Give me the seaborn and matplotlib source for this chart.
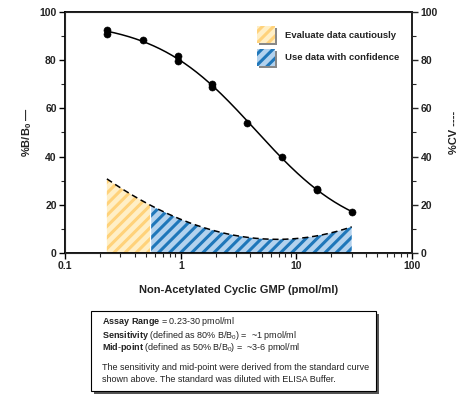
import numpy as np
import pandas as pd
import matplotlib
matplotlib.use("Agg")
import matplotlib.pyplot as plt
import seaborn as sns
from matplotlib.patches import Rectangle

sns.set_style("ticks")
plt.rcParams['font.family'] = ['Liberation Sans', 'DejaVu Sans']
plt.rcParams['hatch.linewidth'] = 2.2
plt.rcParams['mathtext.fontset'] = 'custom'
plt.rcParams['mathtext.rm'] = 'Liberation Sans'
plt.rcParams['mathtext.it'] = 'Liberation Sans:italic'
plt.rcParams['mathtext.bf'] = 'Liberation Sans:bold'

# --- data ---
conc = [0.23, 0.23, 0.47, 0.94, 0.94, 1.88, 1.88, 3.75, 7.5, 15, 15, 30]
bb0 = [92.5, 91.0, 88.5, 81.5, 79.5, 70.0, 69.0, 54.0, 40.0, 26.5, 26.0, 17.0]
cv_conc = [0.23, 0.47, 0.94, 1.88, 3.75, 7.5, 15, 30]
cv_vals = [31.0, 21.0, 14.5, 10.0, 6.5, 5.5, 7.0, 11.0]
confidence_start = 0.55
xticks = [0.1, 1, 10, 100]
xticklabels = ["0.1", "1", "10", "100"]
yticks = [0, 20, 40, 60, 80, 100]

df = pd.DataFrame({"conc": conc, "bb0": bb0})

fig = plt.figure(figsize=(4.58, 3.96), dpi=100)
ax = fig.add_axes([0.142, 0.361, 0.758, 0.609])

# 4-parameter logistic fit of the standard curve (grid over asymptotes)
lx = np.log10(conc)
y = np.array(bb0)
best = None
for a in np.arange(93.0, 110.0, 0.5):
    for d in np.arange(-10.0, 16.5, 0.5):
        z = np.log10((a - y) / (y - d))
        b, c0 = np.polyfit(lx, z, 1)
        pred = d + (a - d) / (1 + 10 ** (b * lx + c0))
        sse = np.sum((pred - y) ** 2)
        if best is None or sse < best[0]:
            best = (sse, a, d, b, c0)
_, A, D, B, C0 = best
xs = np.logspace(np.log10(min(conc)), np.log10(max(conc)), 200)
fit = pd.DataFrame({"x": xs, "y": D + (A - D) / (1 + 10 ** (B * np.log10(xs) + C0))})

# CV curve fit
cc = np.polyfit(np.log10(cv_conc), cv_vals, 3)
cvy = np.polyval(cc, np.log10(xs))

yel = xs <= confidence_start
blu = xs >= confidence_start
ax.fill_between(xs[yel], 0, cvy[yel], facecolor="#FFEFC6", edgecolor="#FFD27A",
                hatch="///", linewidth=0, zorder=1)
ax.fill_between(xs[blu], 0, cvy[blu], facecolor="#B3D2EE", edgecolor="#1F77BA",
                hatch="///", linewidth=0, zorder=1)
sns.lineplot(x=xs, y=cvy, ax=ax, color="black", linestyle=(0, (4, 2.5)),
             linewidth=1.1, zorder=3)

sns.lineplot(data=fit, x="x", y="y", ax=ax, color="black", linewidth=1.1, zorder=3)
sns.scatterplot(data=df, x="conc", y="bb0", ax=ax, color="black", s=26,
                edgecolor="black", zorder=4)

ax.set_xscale("log")
ax.set_xlim(0.1, 100)
ax.set_ylim(0, 100)
ax.set_xticks(xticks)
ax.set_xticklabels(xticklabels)
ax.set_yticks(yticks)
ax.set_yticks([10, 30, 50, 70, 90], minor=True)
for sp in ax.spines.values():
    sp.set_visible(True)
    sp.set_linewidth(1.3)
    sp.set_color("black")
ax.tick_params(axis="both", which="major", length=4, width=1, labelsize=7.5,
               colors="black", pad=2)
ax.tick_params(axis="both", which="minor", length=3, width=0.8)
ax.tick_params(axis="y", which="both", right=False)
for lab in ax.get_xticklabels() + ax.get_yticklabels():
    lab.set_fontweight("bold")
    lab.set_color("#222222")

ax.set_xlabel("Non-Acetylated Cyclic GMP (pmol/ml)", fontsize=8, fontweight="bold",
              labelpad=10, color="#222222")
ax.set_ylabel("%B/B$_\\mathbf{0}$ —", fontsize=8, fontweight="bold", labelpad=4,
              color="#222222")

ax2 = ax.twinx()
ax2.set_ylim(0, 100)
ax2.set_yticks(yticks)
ax2.set_yticks([10, 30, 50, 70, 90], minor=True)
ax2.tick_params(axis="y", which="major", length=4, width=1, labelsize=7.5, pad=2)
ax2.tick_params(axis="y", which="minor", length=3, width=0.8)
for lab in ax2.get_yticklabels():
    lab.set_fontweight("bold")
    lab.set_color("#222222")
ax2.spines["right"].set_linewidth(1.3)
ax2.set_ylabel("%CV ----", fontsize=8, fontweight="bold", labelpad=8, color="#222222")

# legend
for i, (fc, hc, txt) in enumerate([("#FFEFC6", "#FFD27A", "Evaluate data cautiously"),
                                   ("#B3D2EE", "#1F77BA", "Use data with confidence")]):
    y0 = 27 + i * 23
    fig.patches.append(Rectangle((259 / 458, 1 - (y0 + 18) / 396), 18 / 458, 17 / 396,
                                 transform=fig.transFigure, facecolor="#888888",
                                 edgecolor="none", zorder=5))
    fig.patches.append(Rectangle((257 / 458, 1 - (y0 + 16) / 396), 18 / 458, 17 / 396,
                                 transform=fig.transFigure, facecolor=fc, edgecolor=hc,
                                 hatch="///", linewidth=0, zorder=6))
    fig.text(285 / 458, 1 - (y0 + 8) / 396, txt, fontsize=6.8, fontweight="bold",
             va="center", ha="left", color="#222222")

# info box
fig.patches.append(Rectangle((94 / 458, 1 - 394 / 396), 285 / 458, 80 / 396,
                             transform=fig.transFigure, facecolor="#555555",
                             edgecolor="none"))
fig.patches.append(Rectangle((91 / 458, 1 - 391 / 396), 285 / 458, 80 / 396,
                             transform=fig.transFigure, facecolor="white",
                             edgecolor="black", linewidth=0.8))
tx = 102 / 458
fs = 6.45
info_lines = [
    (322, r"$\mathbf{Assay\ Range}$ = 0.23-30 pmol/ml"),
    (335, r"$\mathbf{Sensitivity}$ (defined as 80% B/B$_0$) =  ~1 pmol/ml"),
    (348, r"$\mathbf{Mid\text{-}point}$ (defined as 50% B/B$_0$) =  ~3-6 pmol/ml"),
    (368, "The sensitivity and mid-point were derived from the standard curve"),
    (380, "shown above. The standard was diluted with ELISA Buffer."),
]
for yy, s in info_lines:
    fig.text(tx, 1 - yy / 396, s, fontsize=fs, va="center", ha="left", color="#222222")

fig.savefig("out.png", dpi=100)
